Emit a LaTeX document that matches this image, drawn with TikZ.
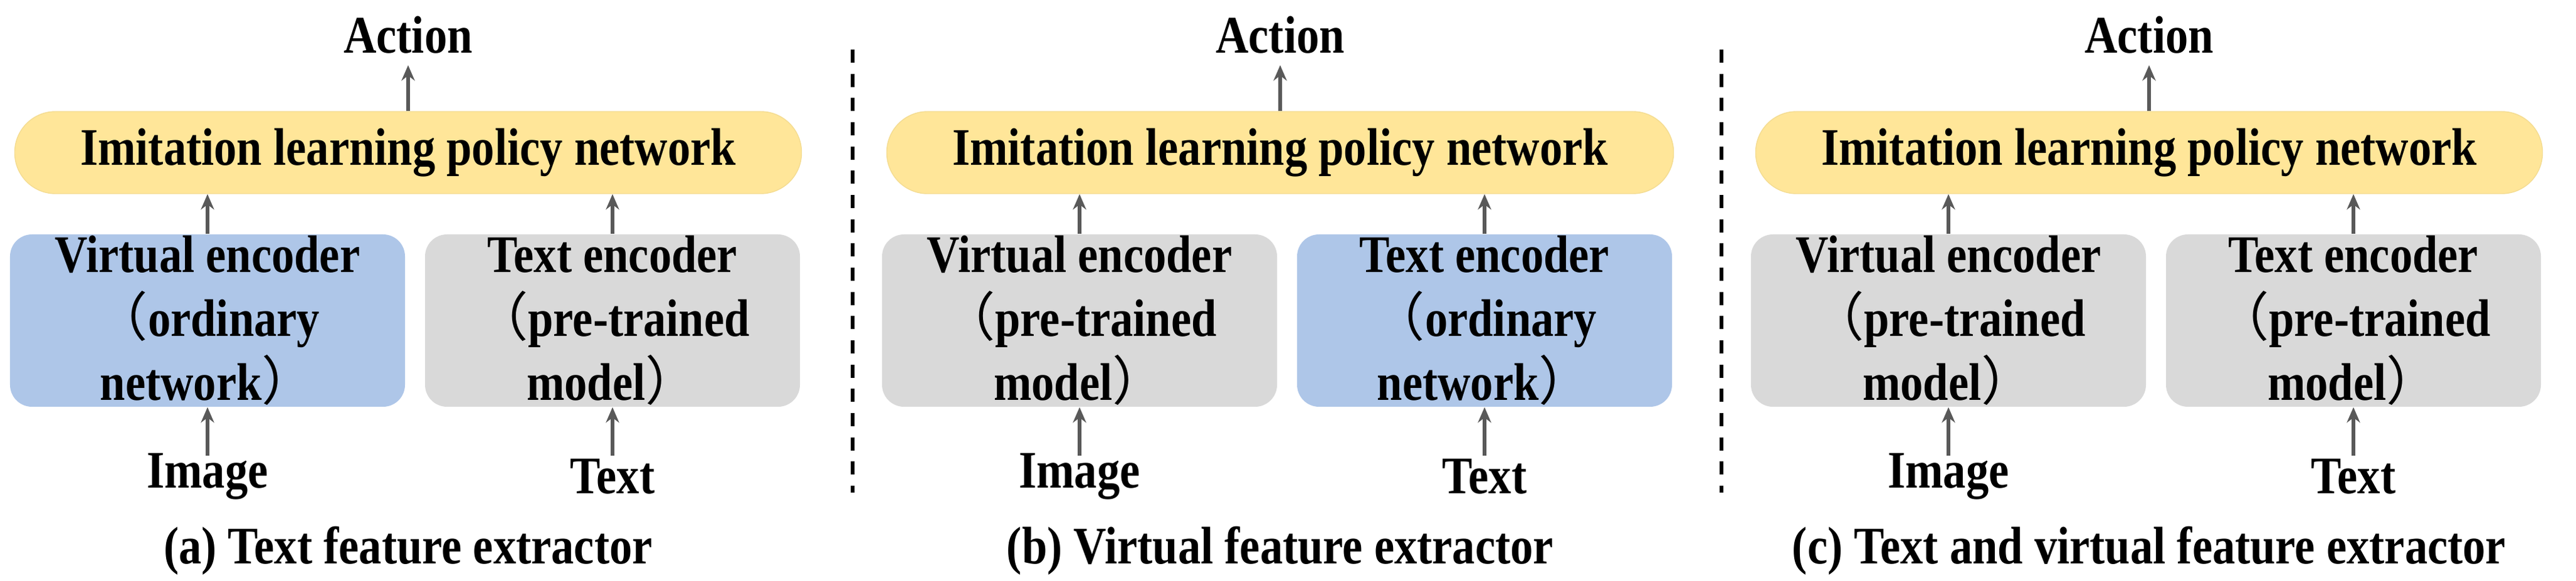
\documentclass[tikz,border=0pt]{standalone}
\usepackage{fontspec}
\setmainfont{Liberation Serif}[BoldFeatures={FakeStretch=0.86}]
\newfontfamily\cjk{Noto Sans CJK SC}
\usetikzlibrary{arrows.meta}
\definecolor{yel}{HTML}{FFE699}
\definecolor{blu}{HTML}{AEC6E8}
\definecolor{gry}{HTML}{D9D9D9}
\definecolor{arr}{HTML}{595959}
\newcommand\lp{{\cjk\mdseries （}}
\newcommand\rp{{\cjk\mdseries ）}}
\tikzset{
 txt/.style={font=\fontsize{24}{29}\selectfont\bfseries, inner sep=0pt},
 pol/.style={txt, fill=yel, draw=yel!85!black!30!yel, rounded corners=0.65cm, minimum width=12.55cm, minimum height=1.31cm},
 enc/.style={txt, rounded corners=0.35cm, minimum height=2.75cm, align=center},
 ar/.style={draw=arr, line width=1.6pt, -{Stealth[length=7pt,width=6pt]}},
 sepline/.style={line width=1.5pt, dash pattern=on 6pt off 5pt}
}
\newcommand\mypanel[8]{%
 \begin{scope}[xshift=#1cm]
 \node[pol] (pol#8) at (6.35,-2.435) {Imitation learning policy network};
 \node[enc, fill=#2, minimum width=6.3cm] (le#8) at (3.15,-5.115) {#4};
 \node[enc, fill=#3, minimum width=5.98cm] (re#8) at (9.61,-5.115) {#5};
 \node[txt] (act#8) at (6.35,-0.56) {Action};
 \node[txt] (img#8) at (3.15,-7.6) {Image};
 \node[txt] (tx#8) at (9.61,-7.6) {Text};
 \node[txt] (cap#8) at (6.35,-8.79) {#6};
 \draw[ar] (pol#8.north) -- (6.35,-1.04);
 \draw[ar] (le#8.north) -- (le#8.north|-pol#8.south);
 \draw[ar] (re#8.north) -- (re#8.north|-pol#8.south);
 \draw[ar] ([yshift=-0.05cm]img#8.north) -- (le#8.south);
 \draw[ar] ([yshift=-0.05cm]tx#8.north|-img#8.north) -- (re#8.south);
 \end{scope}}
\begin{document}
\begin{tikzpicture}
\useasboundingbox (0,0) rectangle (41.09,-9.27);
\mypanel{0.16}{blu}{gry}{Virtual encoder\\\lp ordinary\\network\rp}{Text encoder\\\lp pre-trained\\model\rp}{(a) Text feature extractor}{}{a}
\mypanel{14.07}{gry}{blu}{Virtual encoder\\\lp pre-trained\\model\rp}{Text encoder\\\lp ordinary\\network\rp}{(b) Virtual feature extractor}{}{b}
\mypanel{27.93}{gry}{gry}{Virtual encoder\\\lp pre-trained\\model\rp}{Text encoder\\\lp pre-trained\\model\rp}{(c) Text and virtual feature extractor}{}{c}
\coordinate (d1t) at (13.6,-0.79); \coordinate (d1b) at (13.6,-7.86);
\coordinate (d2t) at (27.46,-0.79); \coordinate (d2b) at (27.46,-7.86);
\draw[sepline] (d1t) -- (d1b);
\draw[sepline] (d2t) -- (d2b);
\end{tikzpicture}
\end{document}
